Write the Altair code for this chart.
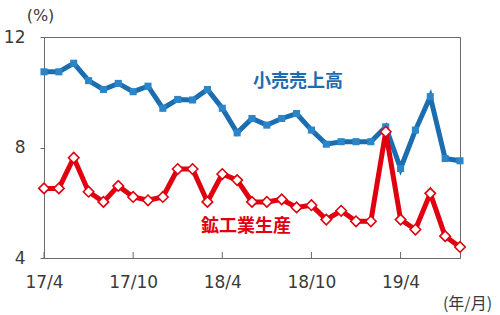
import json
import altair as alt
import pandas as pd

months = ["17/4", "17/5", "17/6", "17/7", "17/8", "17/9", "17/10", "17/11", "17/12",
          "18/1", "18/2", "18/3", "18/4", "18/5", "18/6", "18/7", "18/8", "18/9",
          "18/10", "18/11", "18/12", "19/1", "19/2", "19/3", "19/4", "19/5", "19/6",
          "19/7", "19/8"]
retail = [10.74, 10.74, 11.05, 10.42, 10.1, 10.32, 10.02, 10.22, 9.42,
          9.74, 9.72, 10.1, 9.42, 8.53, 9.05, 8.81, 9.05, 9.23,
          8.63, 8.12, 8.21, 8.21, 8.21, 8.75, 7.24, 8.63, 9.84,
          7.6, 7.52]
industry = [6.52, 6.52, 7.63, 6.4, 6.03, 6.61, 6.21, 6.09, 6.21,
            7.22, 7.22, 6.03, 7.04, 6.82, 6.03, 6.03, 6.12, 5.83,
            5.91, 5.39, 5.71, 5.33, 5.33, 8.57, 5.39, 5.03, 6.34,
            4.79, 4.4]
tick_idx = [0, 6, 12, 18, 24]
y_ticks = [4, 8, 12]
retail_label = "小売売上高"
industry_label = "鉱工業生産"

BLUE = "#1c6db0"
BLUE_PT = "#2a86c8"
RED = "#e0000f"
AXIS = "#6a6a6a"
NUM_FONT = "DejaVu Sans"
JP_FONT = "Noto Sans CJK JP"

df = pd.DataFrame({"i": list(range(len(months))), "month": months,
                   "retail": retail, "industry": industry})
ticks_df = pd.DataFrame({"i": tick_idx})

label_expr = json.dumps(months) + "[datum.value]"

x = alt.X("i:Q", scale=alt.Scale(domain=[0, len(months) - 1], nice=False, zero=False),
          axis=alt.Axis(values=tick_idx, labelExpr=label_expr, ticks=False,
                        labelFlush=False, labelOverlap=False,
                        labelFont=NUM_FONT, labelFontSize=17, labelColor="#3a3a3a",
                        labelPadding=16, domainColor=AXIS, grid=False,
                        title="(年/月)", titleFont=JP_FONT, titleFontSize=16,
                        titleFontWeight="normal", titleColor="#3a3a3a",
                        titleX=423, titleY=45, titleAlign="center", titleBaseline="middle"))
y_scale = alt.Scale(domain=[4, 12], nice=False, zero=False)
y_axis = alt.Axis(values=y_ticks, tickSize=4, tickColor=AXIS, domainColor=AXIS,
                  labelFont=NUM_FONT, labelFontSize=17, labelColor="#3a3a3a",
                  labelPadding=15, labelFlush=False, grid=False, title="(%)", titleAngle=0,
                  titleFont=NUM_FONT, titleFontSize=16, titleFontWeight="normal",
                  titleColor="#3a3a3a", titleX=-4, titleY=-22,
                  titleAlign="center", titleBaseline="middle")

base = alt.Chart(df)

retail_line = base.mark_line(color=BLUE, strokeWidth=5).encode(
    x=x, y=alt.Y("retail:Q", scale=y_scale, axis=y_axis))
retail_pts = base.mark_point(shape="square", filled=True, size=50, color=BLUE_PT,
                             opacity=1).encode(x="i:Q", y="retail:Q")
ind_line = base.mark_line(color=RED, strokeWidth=5).encode(x="i:Q", y="industry:Q")
ind_pts = base.mark_point(shape="diamond", filled=True, size=110, fill="white",
                          stroke=RED, strokeWidth=1.6, opacity=1).encode(
    x="i:Q", y="industry:Q")

inner_ticks = alt.Chart(ticks_df).mark_rule(color=AXIS, strokeWidth=1).encode(
    x="i:Q", y=alt.value(221), y2=alt.value(215))

retail_text = alt.Chart(pd.DataFrame({"t": [retail_label]})).mark_text(
    font=JP_FONT, fontSize=18, fontWeight="bold", color=BLUE,
    align="center", baseline="middle").encode(
    text="t:N", x=alt.value(254), y=alt.value(45))
ind_text = alt.Chart(pd.DataFrame({"t": [industry_label]})).mark_text(
    font=JP_FONT, fontSize=18, fontWeight="bold", color=RED,
    align="center", baseline="middle").encode(
    text="t:N", x=alt.value(202), y=alt.value(190))

chart = alt.layer(retail_line, retail_pts, ind_line, ind_pts, inner_ticks,
                  retail_text, ind_text).properties(
    width=416, height=221,
    autosize=alt.AutoSizeParams(type="none"),
    padding={"left": 44, "top": 37, "right": 40, "bottom": 57},
    background="white",
).configure_view(stroke=AXIS, strokeWidth=1)

chart.save("out.html", embed_options={"renderer": "svg", "actions": False})
